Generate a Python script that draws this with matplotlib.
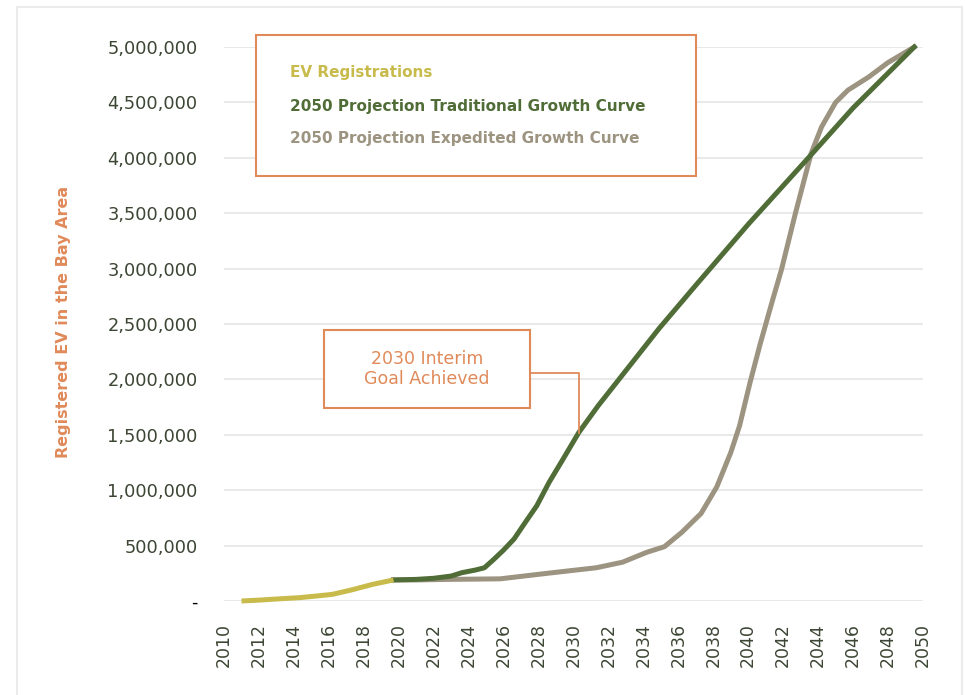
import matplotlib
matplotlib.use("Agg")
import matplotlib.pyplot as plt
from matplotlib.patches import Rectangle
from matplotlib.lines import Line2D
from matplotlib.ticker import FuncFormatter

# --------------------------------------------------------------------------- #
# data
# --------------------------------------------------------------------------- #
reg_years = [2011.0, 2012.0, 2013.0, 2014.3, 2015.3, 2016.2, 2017.3, 2018.5, 2019.7]
reg_values = [0, 8000, 18000, 30000, 45000, 60000, 100000, 150000, 190000]

trad_years = [2019.7, 2021.0, 2022.0, 2023.0, 2023.6, 2024.4, 2024.9, 2025.4, 2026.0,
              2026.6, 2027.2, 2027.9, 2028.6, 2029.4, 2030.3, 2031.4, 2032.6, 2034.9,
              2037.0, 2040.0, 2043.5, 2046.0, 2049.5]
trad_values = [190000, 195000, 205000, 225000, 255000, 280000, 300000, 370000, 460000,
               560000, 700000, 860000, 1070000, 1280000, 1520000, 1760000, 2000000, 2460000,
               2850000, 3400000, 4010000, 4450000, 5000000]

exp_years = [2019.7, 2021.0, 2022.9, 2025.8, 2028.5, 2031.3, 2032.8, 2034.2, 2035.2,
             2036.2, 2037.3, 2038.2, 2039.0, 2039.5, 2040.1, 2040.7, 2041.4, 2041.9,
             2042.7, 2043.3, 2043.6, 2044.2, 2045.0, 2045.7, 2046.9, 2048.0, 2049.5]
exp_values = [190000, 190000, 195000, 200000, 250000, 300000, 350000, 440000, 490000,
              620000, 790000, 1030000, 1340000, 1580000, 1970000, 2330000, 2720000, 2990000,
              3500000, 3860000, 4040000, 4280000, 4500000, 4610000, 4730000, 4860000, 5000000]

x_ticks = list(range(2010, 2051, 2))
y_ticks = list(range(0, 5000001, 500000))

legend_labels = ["EV Registrations",
                 "2050 Projection Traditional Growth Curve",
                 "2050 Projection Expedited Growth Curve"]
note_text = "2030 Interim\nGoal Achieved"
note_year, note_value = 2030.3, 1520000
y_title = "Registered EV in the Bay Area"

C_REG = "#c8bb4c"
C_TRAD = "#506d38"
C_EXP = "#9c9480"
C_ORANGE = "#e08a5a"
C_TICK = "#3c4634"
C_GRID = "#e9e9e9"

W, H = 965, 695


def fig_xy(x, y):
    """pixel (from top-left) -> figure fraction"""
    return x / W, 1 - y / H


fig = plt.figure(figsize=(W / 100, H / 100), dpi=100)
fig.patch.set_facecolor("white")

# outer light frame
x0, y0 = fig_xy(17, 7)
x1, _ = fig_xy(962, 0)
fig.patches.append(Rectangle((x0, -0.05), x1 - x0, y0 + 0.05, transform=fig.transFigure,
                             fill=False, edgecolor="#ebebeb", lw=1.5, zorder=0))

ax = fig.add_axes([224 / W, 1 - 601 / H, (923 - 224) / W, (601 - 47) / H])
ax.set_xlim(2010, 2050)
ax.set_ylim(0, 5000000)
for s in ax.spines.values():
    s.set_visible(False)
ax.set_facecolor("none")

ax.set_yticks(y_ticks)
ax.set_xticks(x_ticks)
ax.yaxis.set_major_formatter(FuncFormatter(lambda v, p: "-" if v == 0 else f"{int(v):,}"))
ax.tick_params(axis="both", length=0, labelcolor=C_TICK)
ax.tick_params(axis="y", pad=19, labelsize=12.8)
ax.tick_params(axis="x", pad=16, labelrotation=90, labelsize=12.5)
ax.grid(axis="y", color=C_GRID, lw=1.5)
ax.set_axisbelow(True)

lw = 3.6
style = dict(lw=lw, clip_on=False, solid_joinstyle="round")
ax.plot(exp_years, exp_values, color=C_EXP, zorder=2, **style)
ax.plot(trad_years, trad_values, color=C_TRAD, zorder=3, **style)
ax.plot(reg_years, reg_values, color=C_REG, zorder=4, solid_capstyle="butt", **style)

# zero tick shows as a dash in black
fig.canvas.draw()
for lab in ax.get_yticklabels():
    if lab.get_text() == "-":
        lab.set_color("black")

# y title
tx, ty = fig_xy(64, 322)
fig.text(tx, ty, y_title, color=C_ORANGE, fontsize=11.5, fontweight="bold",
         rotation=90, ha="center", va="center")

# legend box drawn by hand
lx, ly = fig_xy(256, 176)
rx, ry = fig_xy(696, 35)
fig.patches.append(Rectangle((lx, ly), rx - lx, ry - ly, transform=fig.transFigure,
                             fill=True, facecolor="white", edgecolor=C_ORANGE, lw=1.5, zorder=5))
for label, color, yy in zip(legend_labels, [C_REG, C_TRAD, C_EXP], [73, 106, 139]):
    tx, ty = fig_xy(290, yy)
    fig.text(tx, ty, label, color=color, fontsize=11, fontweight="bold",
             ha="left", va="center", zorder=6)

# interim goal callout
bx, by = fig_xy(324, 408)
bx2, by2 = fig_xy(530, 330)
fig.patches.append(Rectangle((bx, by), bx2 - bx, by2 - by, transform=fig.transFigure,
                             fill=True, facecolor="white", edgecolor=C_ORANGE, lw=1.5, zorder=5))
cx, cy = fig_xy(427, 369)
fig.text(cx, cy, note_text, color=C_ORANGE, fontsize=12.5, ha="center", va="center",
         linespacing=1.2, zorder=6)
px, py = ax.transData.transform((note_year, note_value))
px, py = fig.transFigure.inverted().transform((px, py))
kx, ky = fig_xy(579, 373)
fig.lines.append(Line2D([bx2, kx, kx], [ky, ky, py], transform=fig.transFigure,
                        color=C_ORANGE, lw=1.3, zorder=5))

fig.savefig("out.png", dpi=100)
